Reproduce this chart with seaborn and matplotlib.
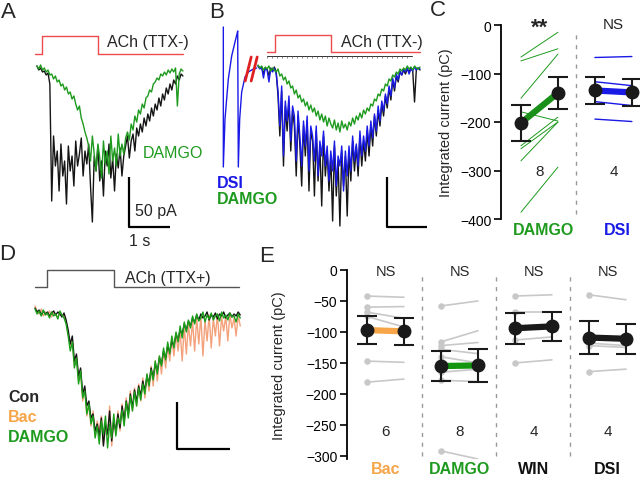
import numpy as np
import pandas as pd
import matplotlib
matplotlib.use("Agg")
import matplotlib.pyplot as plt
import seaborn as sns

sns.set_theme(style="white")
plt.rcParams['font.family'] = ['Liberation Sans', 'DejaVu Sans']

W, H = 640, 481
GREEN = '#1e9a1e'
BLUE = '#1a1ae6'
ORANGE = '#f6a548'
SALMON = '#f3a27c'
RED = '#ef4a4a'
GRAY = '#c8c8c8'

# ---------------- panel A: evoked currents (pA), sampled evenly over 3.56 s
a_dur = 3.56
a_ach = (0.12, 1.49)
a_con = [0, -4, -2, -6, -5, -9, -7, -18, -135,
         -70, -100, -85, -125, -78, -110, -95, -138, -80, -105, -90, -120, -75, -100,
         -88, -72, -110, -85, -98, -78, -120, -156, -90, -105, -80, -115, -95, -130,
         -85, -100, -78, -112, -92, -125, -88, -102, -82, -110, -90,
         -80, -70, -92, -75, -68, -85, -62, -70, -58, -66, -52, -60, -48, -55, -42, -50,
         -38, -44, -32, -40, -28, -34, -22, -28, -18, -24, -14, -18, -10, -14, -8, -10]
a_damgo = [0, -3, 1, -4, -2, -6, -4, -9,
           -8, -13, -10, -16, -14, -20, -18,
           -24, -21, -28, -26, -33, -30, -38,
           -44, -40, -52, -58, -66, -72,
           -80, -95, -70, -88, -105, -78, -92, -112, -75, -98, -85, -108, -70, -95,
           -82, -100, -68, -90, -78, -88, -72,
           -66, -74, -58, -64, -50, -56, -44, -48,
           -38, -42, -32, -30, -24, -26, -18,
           -16, -12, -14, -8, -10, -6, -9, -4, -7, -3, -6, -2,
           -40, -8, -3, -5]

# ---------------- panel B: control / DSI / DAMGO, sampled evenly over 4.05 s
b_dur = 4.05
b_ach = (0.425, 1.825)
b_con = [0, -2, -1, -8, -2, -3, -10, -2, -5, -1,
         -6, -30, -70, -25, -100, -40, -65, -35, -85, -45,
         -60, -110, -50, -80, -120, -60, -90, -55, -125, -65,
         -75, -130, -65, -115, -80, -140, -70, -110, -85, -125,
         -90, -155, -80, -130, -95, -160, -85, -120, -90, -150,
         -85, -115, -75, -105, -80, -110, -70, -100, -75, -95,
         -65, -90, -60, -80, -50, -70, -45, -60, -38, -50,
         -30, -42, -22, -34, -14, -25, -10, -16, -6, -9,
         -4, -8, -3, -6, -2, -5, -36, -3, -2, -4]
b_dsi = [0, -3, -1, -12, -2, -4, -16, -3, -6, -2,
         -8, -25, -60, -20, -90, -35, -55, -30, -75, -40,
         -50, -95, -45, -70, -100, -55, -80, -50, -105, -60,
         -70, -95, -60, -110, -75, -90, -65, -100, -80, -115,
         -85, -105, -75, -120, -90, -100, -80, -125, -85, -110,
         -80, -105, -70, -95, -78, -100, -65, -90, -70, -85,
         -60, -80, -55, -72, -48, -65, -40, -55, -35, -45,
         -28, -38, -20, -30, -12, -22, -8, -14, -5, -9,
         -3, -6, -2, -8, -3, -5, -1, -4, -2, -3]
b_damgo = [1, -2, 0, -4, -1, -3, 0, -5, -2, -4,
           -6, -3, -10, -8, -14, -11, -18, -15, -22, -20,
           -28, -24, -32, -29, -36, -33, -40, -36, -44, -39,
           -46, -42, -50, -45, -54, -48, -56, -50, -60, -52,
           -58, -62, -54, -64, -57, -66, -55, -62, -58, -64,
           -56, -60, -52, -58, -50, -54, -47, -52, -44, -48,
           -42, -45, -38, -40, -33, -35, -28, -30, -23, -25,
           -18, -20, -13, -15, -9, -11, -6, -8, -3, -5,
           -2, -4, 0, -3, -1, -4, 0, -2, -3, -1]
# DSI-inducing depolarisation segment (before the break)
dsi_t = [-0.867, -0.867, -0.825, -0.742, -0.658, -0.575, -0.525, -0.508, -0.492,
         -0.458, -0.408, -0.325, -0.242, -0.117, -0.033]
dsi_v = [39, -101, -53, -13, 10, 24, 32, 35, -101, -53, -26, -11, -6, -3, -2]

# ---------------- panel D: TTX+ currents, sampled evenly over 3.87 s
d_dur = 3.87
d_ach = (0.226, 1.49)
d_con = [-2, -6, -4, -9, -5, -8, -6, -10, -7, -5, -9, -6, -8, -11, -7, -14,
         -24, -38, -30, -55, -48, -70, -62, -88, -80, -100, -95, -112, -108, -125, -118,
         -130, -112, -140, -118, -128, -105, -135, -115, -125, -108,
         -122, -100, -115, -95, -108, -88, -102, -84, -96, -80, -90,
         -75, -85, -70, -78, -62, -72, -58, -65, -52, -58, -45, -52, -40, -46,
         -35, -40, -28, -34, -24, -28, -18, -24, -15, -20,
         -12, -16, -9, -14, -8, -12, -10, -6, -14, -9, -11, -7, -13, -8, -10, -6,
         -12, -9, -7, -11, -8, -10, -6, -9]
d_bac = [0, -5, -8, -3, -10, -6, -9, -5, -11, -7, -8, -12, -6, -10, -9, -16,
         -28, -40, -35, -60, -50, -75, -66, -95, -82, -110, -98, -120, -105, -130, -115,
         -125, -110, -138, -120, -130, -100, -140, -112, -128, -105,
         -125, -98, -118, -92, -110, -85, -105, -82, -100, -78, -95,
         -72, -92, -68, -85, -60, -80, -55, -75, -50, -68, -45, -62, -40, -55,
         -32, -50, -28, -45, -25, -55, -20, -48, -18, -40,
         -15, -45, -12, -38, -10, -50, -14, -35, -9, -42, -12, -30, -8, -40, -11, -25,
         -10, -35, -8, -22, -12, -30, -9, -20]
d_damgo = [-3, -8, -5, -10, -4, -9, -7, -12, -6, -10, -8, -13, -5, -9, -12, -18,
           -30, -45, -36, -62, -52, -78, -65, -92, -85, -108, -98, -118, -110, -132, -120,
           -138, -115, -128, -110, -142, -118, -132, -108, -130, -112,
           -118, -104, -120, -96, -112, -90, -105, -86, -100, -82, -94,
           -78, -88, -68, -80, -64, -74, -55, -68, -50, -60, -42, -54, -36, -48,
           -30, -42, -26, -36, -20, -32, -16, -26, -14, -22,
           -10, -18, -8, -15, -12, -6, -16, -9, -13, -7, -14, -10, -8, -15, -6, -12,
           -9, -14, -7, -11, -10, -16, -8, -12]

# ---------------- panel C: integrated current (pC), before / after
c_damgo_pre = [-66, -74, -151, -179, -249, -255, -280, -386]
c_damgo_post = [-15, -49, -60, -198, -190, -200, -200, -293]
c_dsi_pre = [-67, -117, -158, -194]
c_dsi_post = [-65, -125, -166, -199]
c_mean_pre = [-202, -135]
c_sem_pre = [38, 27]
c_mean_post = [-140, -139]
c_sem_post = [33, 28]
c_labels = ['DAMGO', 'DSI']
c_n = ['8', '4']
c_stars = ['**', 'NS']

# ---------------- panel E: integrated current (pC) in TTX
e_labels = ['Bac', 'DAMGO', 'WIN', 'DSI']
e_n = ['6', '8', '4', '4']
e_pre = [[-42, -60, -68, -75, -147, -181],
         [-58, -116, -122, -128, -140, -165, -178, -292],
         [-42, -67, -113, -150],
         [-40, -118, -122, -164]]
e_post = [[-44, -59, -78, -92, -149, -176],
          [-50, -98, -117, -135, -150, -160, -180, -305],
          [-40, -67, -108, -145],
          [-48, -122, -125, -160]]
e_mean_pre = [-97, -155, -94, -109]
e_sem_pre = [23, 24, 25, 26]
e_mean_post = [-99, -154, -91, -111]
e_sem_post = [22, 26, 23, 24]


def px_axes(fig, x0, y0, x1, y1):
    return fig.add_axes([x0 / W, 1 - y1 / H, (x1 - x0) / W, (y1 - y0) / H])


def trace(ax, vals, dur, color, lw=1.0):
    t = np.linspace(0, dur, len(vals))
    sns.lineplot(x=t, y=vals, ax=ax, color=color, lw=lw, estimator=None, sort=False)


def stim(ax, t0, t1, on, off, low, high, color):
    ax.plot([t0, on, on, off, off, t1], [low, low, high, high, low, low], color=color, lw=1.0)


def scalebar(ax, x, y, w, h):
    ax.plot([x, x, x + w], [y + h, y, y], color='black', lw=1.6, solid_capstyle='butt')


fig = plt.figure(figsize=(6.4, 4.81), dpi=100)
FS = 11.5

# ---- A
axA = px_axes(fig, 0, 20, 210, 250)
trace(axA, a_con, a_dur, '#151515')
trace(axA, a_damgo, a_dur, GREEN)
stim(axA, -0.05, a_dur, a_ach[0], a_ach[1], 12, 30, RED)
axA.text(1.71, 24, 'ACh (TTX-)', fontsize=FS, va='center', ha='left')
axA.text(2.59, -86, 'DAMGO', fontsize=FS, color=GREEN, va='center', ha='left')
scalebar(axA, 2.24, -161, 1.0, 50)
axA.text(2.39, -145, '50 pA', fontsize=FS, va='center', ha='left')
axA.text(2.51, -175, '1 s', fontsize=FS, va='center', ha='center')
axA.set_xlim(-0.90, 4.22)
axA.set_ylim(-183, 47)
axA.axis('off')

# ---- B
axB = px_axes(fig, 205, 20, 430, 250)
trace(axB, b_con, b_dur, '#151515')
trace(axB, b_dsi, b_dur, BLUE)
trace(axB, b_damgo, b_dur, GREEN)
sns.lineplot(x=dsi_t, y=dsi_v, ax=axB, color=BLUE, lw=1.0, estimator=None, sort=False)
for xb in (-0.32, -0.17):
    axB.plot([xb, xb + 0.15], [-15, 9], color='#e02020', lw=2.0)
stim(axB, 0.225, b_dur, b_ach[0], b_ach[1], 14, 31, RED)
tk = np.arange(0.225, 3.85, 0.125)
axB.plot([0.225, 3.85], [10, 10], color='#333333', lw=0.7)
axB.plot(tk, np.full(len(tk), 9.5), ls='none', marker='|', ms=2, color='#555555', mew=0.5)
axB.text(2.075, 24, 'ACh (TTX-)', fontsize=FS, va='center', ha='left')
axB.text(-1.025, -116, 'DSI', fontsize=FS, color=BLUE, fontweight='bold', va='center', ha='left')
axB.text(-1.025, -133, 'DAMGO', fontsize=FS, color=GREEN, fontweight='bold', va='center', ha='left')
scalebar(axB, 3.225, -161, 1.0, 50)
axB.set_xlim(-1.325, 4.3)
axB.set_ylim(-183, 47)
axB.axis('off')

# ---- D
axD = px_axes(fig, 0, 258, 262, 478)
trace(axD, d_bac, d_dur, SALMON)
trace(axD, d_con, d_dur, '#151515')
trace(axD, d_damgo, d_dur, '#1aa01a')
stim(axD, 0, 3.85, d_ach[0], d_ach[1], 19, 36, '#555555')
axD.text(1.70, 28, 'ACh (TTX+)', fontsize=FS, va='center', ha='left')
axD.text(-0.51, -91, 'Con', fontsize=FS, fontweight='bold', va='center', ha='left')
axD.text(-0.51, -111, 'Bac', fontsize=FS, color=ORANGE, fontweight='bold', va='center', ha='left')
axD.text(-0.51, -130, 'DAMGO', fontsize=FS, color=GREEN, fontweight='bold', va='center', ha='left')
scalebar(axD, 2.68, -143, 1.0, 47)
axD.set_xlim(-0.66, 4.28)
axD.set_ylim(-171, 49)
axD.axis('off')


def style_summary(ax, yticks):
    sns.despine(ax=ax, bottom=True, top=True, right=True)
    ax.spines['left'].set_linewidth(1.3)
    ax.spines['left'].set_color('black')
    ax.set_xticks([])
    ax.set_yticks(yticks)
    ax.tick_params(axis='y', which='both', left=True, length=5, width=1.2,
                   labelsize=10, pad=2, colors='black')
    ax.set_facecolor('none')
    ax.grid(False)


def paired_means(ax, x0, mpre, spre, mpost, spost, color):
    ax.plot([x0, x0 + 1], [mpre, mpost], color=color, lw=4.5, solid_capstyle='butt', zorder=3)
    ax.errorbar([x0, x0 + 1], [mpre, mpost], yerr=[spre, spost], fmt='o', color='#1a1a1a',
                ms=9, capsize=7, elinewidth=1.5, capthick=1.5, zorder=4)


# ---- C
axC = px_axes(fig, 501, 26, 640, 220)
rows = []
for i, (a, b) in enumerate(zip(c_damgo_pre, c_damgo_post)):
    rows += [dict(x=0, y=a, cell=i), dict(x=1, y=b, cell=i)]
sns.lineplot(data=pd.DataFrame(rows), x='x', y='y', units='cell', estimator=None,
             color=GREEN, lw=0.7, ax=axC)
rows = []
for i, (a, b) in enumerate(zip(c_dsi_pre, c_dsi_post)):
    rows += [dict(x=2, y=a, cell=i), dict(x=3, y=b, cell=i)]
sns.lineplot(data=pd.DataFrame(rows), x='x', y='y', units='cell', estimator=None,
             color=BLUE, lw=1.0, ax=axC)
paired_means(axC, 0, c_mean_pre[0], c_sem_pre[0], c_mean_post[0], c_sem_post[0], '#1a8f1a')
paired_means(axC, 2, c_mean_pre[1], c_sem_pre[1], c_mean_post[1], c_sem_post[1], BLUE)
axC.vlines([1.5], -390, -15, colors='#999999', lw=1.0, linestyles=(0, (3, 4)))
for k, (lab, col) in enumerate(zip(c_labels, [GREEN, BLUE])):
    xc = 2 * k + 0.5
    if k == 0:
        axC.text(xc, -4, c_stars[k], fontsize=16, ha='center', va='center',
                 fontweight='bold', clip_on=False)
    else:
        axC.text(xc, 2, c_stars[k], fontsize=11, ha='center', va='center', clip_on=False)
    axC.text(xc, -301, c_n[k], fontsize=11, ha='center', va='center')
    axC.text(xc + 0.1, -421, lab, fontsize=11.5, color=col, fontweight='bold',
             ha='center', va='center', clip_on=False)
axC.set_xlim(-0.54, 3.22)
axC.set_ylim(-400, 0)
style_summary(axC, [0, -100, -200, -300, -400])
axC.set_xlabel('')
axC.set_ylabel('Integrated current (pC)', fontsize=10.5)
axC.yaxis.set_label_coords(-0.345, 0.5)

# ---- E
axE = px_axes(fig, 347, 271, 640, 460)
rows = []
cid = 0
for g in range(4):
    for a, b in zip(e_pre[g], e_post[g]):
        rows += [dict(x=2 * g, y=a, cell=cid), dict(x=2 * g + 1, y=b, cell=cid)]
        cid += 1
edf = pd.DataFrame(rows)
sns.lineplot(data=edf, x='x', y='y', units='cell', estimator=None, color=GRAY, lw=1.2, ax=axE)
sns.scatterplot(data=edf[edf.x % 2 == 0], x='x', y='y', color=GRAY, s=22, linewidth=0, ax=axE)
mean_cols = [ORANGE, '#12960f', '#1a1a1a', '#1a1a1a']
for g in range(4):
    paired_means(axE, 2 * g, e_mean_pre[g], e_sem_pre[g], e_mean_post[g], e_sem_post[g], mean_cols[g])
axE.vlines([1.5, 3.5, 5.5], -300, -5, colors='#999999', lw=1.0, linestyles=(0, (3, 4)))
lab_cols = [ORANGE, GREEN, '#111111', '#111111']
for g in range(4):
    xc = 2 * g + 0.5
    axE.text(xc, -2, 'NS', fontsize=10.5, ha='center', va='center', clip_on=False)
    axE.text(xc, -260, e_n[g], fontsize=11, ha='center', va='center')
    axE.text(xc, -321, e_labels[g], fontsize=11.5, color=lab_cols[g], fontweight='bold',
             ha='center', va='center', clip_on=False)
axE.set_xlim(-0.54, 7.38)
axE.set_ylim(-305, 0)
style_summary(axE, [0, -50, -100, -150, -200, -250, -300])
axE.set_xlabel('')
axE.set_ylabel('Integrated current (pC)', fontsize=10.5)
axE.yaxis.set_label_coords(-0.208, 0.5)

# panel letters
for lab, (x, y) in zip('ABCDE', [(8, 13), (217, 12), (438, 11), (7, 255), (267, 256)]):
    fig.text(x / W, 1 - y / H, lab, fontsize=16, ha='center', va='center')

fig.savefig('out.png', dpi=100)
